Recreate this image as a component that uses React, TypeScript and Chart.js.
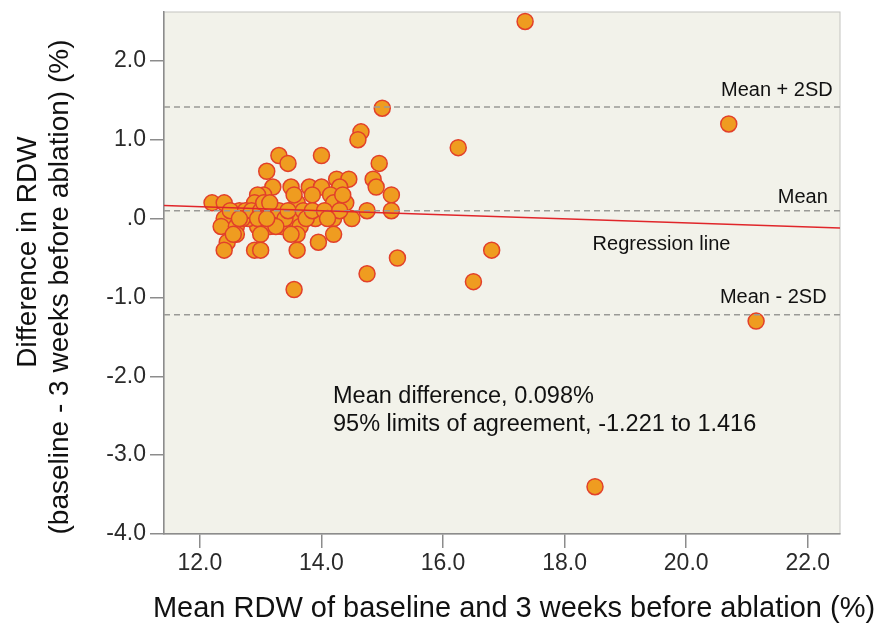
import React, { useEffect, useRef } from "react";
import { Chart, registerables } from "chart.js";

Chart.register(...registerables);

// ---- data ----
const meanRdw: number[] = [
  15.0, 14.65, 14.6, 13.3, 13.45, 14.0, 14.95, 13.1, 14.85, 14.9,
  15.15, 15.15, 14.75, 13.2, 13.5, 13.8, 14.0, 14.25, 14.45, 14.3,
  14.15, 13.85, 13.05, 12.95, 12.2, 12.4, 13.6, 14.2, 14.4, 12.9,
  12.65, 12.4, 13.5, 13.9, 14.2, 14.5, 12.35, 12.6, 12.95, 13.15,
  13.65, 12.6, 13.0, 13.6, 14.2, 12.45, 13.95, 12.4, 12.9, 13.0,
  13.6, 14.75, 15.25, 13.55, 17.35, 20.7, 16.25, 16.8, 16.5, 21.15,
  18.5, 12.5, 12.75, 12.8, 12.7, 12.85, 13.0, 13.05, 13.2, 13.3,
  13.35, 13.4, 13.45, 13.7, 13.75, 13.85, 14.05, 14.3, 14.1, 12.55,
  13.25, 13.55, 12.65, 13.15, 14.35, 12.95, 13.1, 13.5,
];
const rdwDiff: number[] = [
  1.4, 1.1, 1.0, 0.8, 0.7, 0.8, 0.7, 0.6, 0.5, 0.4,
  0.3, 0.1, 0.1, 0.4, 0.4, 0.4, 0.4, 0.5, 0.5, 0.4,
  0.3, 0.3, 0.3, 0.3, 0.2, 0.2, 0.2, 0.2, 0.2, 0.2,
  0.1, 0.0, 0.0, 0.0, 0.0, 0.0, -0.1, -0.1, -0.1, -0.1,
  -0.1, -0.2, -0.2, -0.2, -0.2, -0.3, -0.3, -0.4, -0.4, -0.4,
  -0.4, -0.7, -0.5, -0.9, 2.5, 1.2, 0.9, -0.4, -0.8, -1.3,
  -3.4, 0.1, 0.1, 0.0, 0.0, 0.1, 0.1, 0.2, 0.0, 0.1,
  -0.1, 0.0, 0.1, 0.1, 0.0, 0.1, 0.1, 0.1, 0.0, -0.2,
  -0.1, 0.3, 0.0, 0.2, 0.3, 0.0, 0.0, -0.2,
];

const meanDifference = 0.098;
const upperLimit = 1.416;
const lowerLimit = -1.221;
const regressionX: number[] = [11.41, 22.53];
const regressionY: number[] = [0.165, -0.12];

const xRange: number[] = [11.41, 22.53];
const yRange: number[] = [-4.0, 2.62];
const xTickValues: number[] = [12, 14, 16, 18, 20, 22];
const yTickValues: number[] = [-4, -3, -2, -1, 0, 1, 2];

const xTitle = "Mean RDW of baseline and 3 weeks before ablation (%)";
const yTitleLines: string[] = ["Difference in RDW", "(baseline - 3 weeks before ablation) (%)"];
const summaryLines: string[] = ["Mean difference, 0.098%", "95% limits of agreement, -1.221 to 1.416"];
const lineLabels: string[] = ["Mean + 2SD", "Mean", "Regression line", "Mean - 2SD"];

// ---- label placement (data units) ----
const lineLabelX: number[] = [22.41, 22.33, 18.46, 22.31];
const lineLabelY: number[] = [1.553, 0.198, -0.398, -1.07];
const lineLabelAlign: CanvasTextAlign[] = ["right", "right", "left", "right"];
const summaryX = 14.19;
const summaryY: number[] = [-2.336, -2.70];

const FONT = "'Liberation Sans', Arial, Helvetica, sans-serif";

const decorPlugin = {
  id: "decor",
  beforeDraw(chart: any) {
    const { ctx, chartArea: a } = chart;
    ctx.save();
    ctx.fillStyle = "#ffffff";
    ctx.fillRect(0, 0, chart.width, chart.height);
    ctx.fillStyle = "#F2F2EA";
    ctx.fillRect(a.left, a.top, a.right - a.left, a.bottom - a.top);
    ctx.strokeStyle = "#c4c4c0";
    ctx.lineWidth = 1;
    ctx.strokeRect(a.left, a.top, a.right - a.left, a.bottom - a.top);
    ctx.restore();
  },
  afterDraw(chart: any) {
    const { ctx } = chart;
    const xs = chart.scales.x;
    const ys = chart.scales.y;
    ctx.save();
    ctx.fillStyle = "#111111";
    ctx.textBaseline = "alphabetic";
    ctx.font = `20px ${FONT}`;
    lineLabels.forEach((t, i) => {
      ctx.textAlign = lineLabelAlign[i];
      ctx.fillText(t, xs.getPixelForValue(lineLabelX[i]), ys.getPixelForValue(lineLabelY[i]));
    });
    ctx.font = `23.5px ${FONT}`;
    ctx.textAlign = "left";
    summaryLines.forEach((t, i) => {
      ctx.fillText(t, xs.getPixelForValue(summaryX), ys.getPixelForValue(summaryY[i]));
    });
    // axis titles
    ctx.font = `29px ${FONT}`;
    ctx.textAlign = "center";
    ctx.fillText(xTitle, 514, 617);
    ctx.font = `28px ${FONT}`;
    ctx.textBaseline = "middle";
    const centersX = [28, 60];
    const centersY = [252, 287];
    yTitleLines.forEach((t, i) => {
      ctx.save();
      ctx.translate(centersX[i], centersY[i]);
      ctx.rotate(-Math.PI / 2);
      ctx.fillText(t, 0, 0);
      ctx.restore();
    });
    ctx.restore();
  },
};

function hLine(y: number, color: string, dash: number[]) {
  return {
    type: "scatter" as const,
    data: [
      { x: xRange[0], y },
      { x: xRange[1], y },
    ],
    showLine: true,
    borderColor: color,
    borderWidth: 1.5,
    borderDash: dash,
    pointRadius: 0,
    order: 1,
  };
}

export default function App() {
  const ref = useRef<HTMLCanvasElement | null>(null);
  useEffect(() => {
    if (!ref.current) return;
    const points = meanRdw.map((x, i) => ({ x, y: rdwDiff[i] }));
    const regression = regressionX.map((x, i) => ({ x, y: regressionY[i] }));
    const chart = new Chart(ref.current, {
      type: "scatter",
      data: {
        datasets: [
          {
            data: points,
            backgroundColor: "#EF9C20",
            borderColor: "#E2402A",
            borderWidth: 1.5,
            pointRadius: 8,
            order: 2,
          } as any,
          hLine(upperLimit, "#9a9a96", [6, 4]),
          hLine(meanDifference, "#9a9a96", [6, 4]),
          hLine(lowerLimit, "#9a9a96", [6, 4]),
          {
            data: regression,
            showLine: true,
            borderColor: "#E0262A",
            borderWidth: 1.5,
            pointRadius: 0,
            order: 0,
          } as any,
        ],
      },
      options: {
        animation: false,
        responsive: true,
        maintainAspectRatio: false,
        layout: { padding: { top: 12, right: 41, left: 0, bottom: 0 } },
        plugins: { legend: { display: false }, tooltip: { enabled: false } },
        scales: {
          x: {
            type: "linear",
            min: xRange[0],
            max: xRange[1],
            afterBuildTicks: (s: any) => {
              s.ticks = xTickValues.map((v) => ({ value: v }));
            },
            afterFit: (s: any) => {
              s.height = 97;
              s.paddingLeft = 0;
              s.paddingRight = 0;
            },
            ticks: {
              autoSkip: false,
              maxRotation: 0,
              padding: 2,
              color: "#2a2a2a",
              font: { family: FONT, size: 23 },
              callback: (v: any) => Number(v).toFixed(1),
            },
            grid: { drawOnChartArea: false, drawTicks: true, tickLength: 14, color: "#8c8c8c", lineWidth: 1.5 },
            border: { color: "#8c8c8c", width: 1.5 },
          },
          y: {
            type: "linear",
            min: yRange[0],
            max: yRange[1],
            afterBuildTicks: (s: any) => {
              s.ticks = yTickValues.map((v) => ({ value: v }));
            },
            afterFit: (s: any) => {
              s.width = 164;
              s.paddingTop = 0;
              s.paddingBottom = 0;
            },
            ticks: {
              autoSkip: false,
              padding: 4,
              color: "#2a2a2a",
              font: { family: FONT, size: 23 },
              callback: (v: any) => (Number(v) === 0 ? ".0" : Number(v).toFixed(1)),
            },
            grid: { drawOnChartArea: false, drawTicks: true, tickLength: 14, color: "#8c8c8c", lineWidth: 1.5 },
            border: { color: "#8c8c8c", width: 1.5 },
          },
        },
      } as any,
      plugins: [decorPlugin],
    });
    return () => chart.destroy();
  }, []);
  return (
    <div style={{ position: "absolute", left: 0, top: 0, width: 881, height: 631, background: "#fff" }}>
      <canvas ref={ref} />
    </div>
  );
}
